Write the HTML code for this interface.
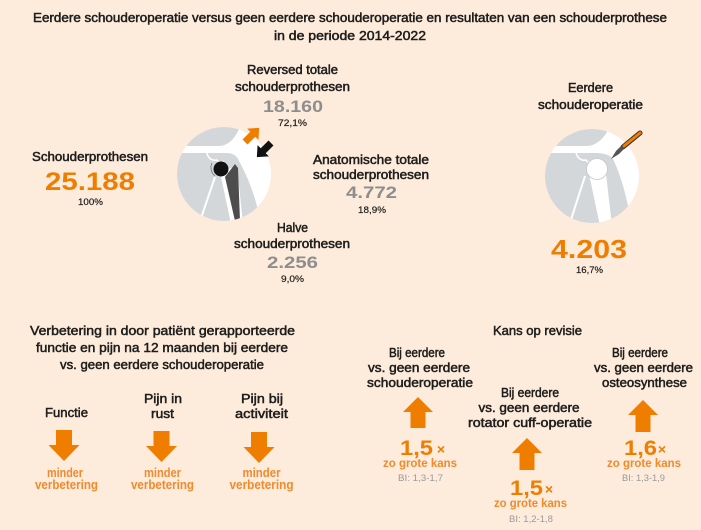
<!DOCTYPE html>
<html><head><meta charset="utf-8">
<style>
html,body{margin:0;padding:0;background:#FDEBDC;}
svg{display:block;}
.t{font-family:"Liberation Sans",sans-serif;fill:#1d1d1b;stroke:#1d1d1b;stroke-width:0.5;text-anchor:middle;}
.n{font-family:"Liberation Sans",sans-serif;font-weight:bold;text-anchor:middle;}
.o{fill:#EF7D00;}
.g{fill:#8E8E8E;}
.p{font-family:"Liberation Sans",sans-serif;fill:#1d1d1b;stroke:#1d1d1b;stroke-width:0.2;text-anchor:middle;font-size:9.5px;}
.lo{font-family:"Liberation Sans",sans-serif;font-weight:bold;fill:#F18A2C;text-anchor:middle;}
.bi{font-family:"Liberation Sans",sans-serif;fill:#9A9A9A;text-anchor:middle;font-size:9.5px;}
</style></head>
<body>
<svg width="701" height="530" viewBox="0 0 701 530" xmlns="http://www.w3.org/2000/svg">
<defs>
<clipPath id="cc"><circle cx="0" cy="0" r="47"/></clipPath>
</defs>
<rect width="701" height="530" fill="#FDEBDC"/>

<!-- Title -->
<text class="t" x="350" y="22" font-size="12.5" textLength="634" lengthAdjust="spacingAndGlyphs">Eerdere schouderoperatie versus geen eerdere schouderoperatie en resultaten van een schouderprothese</text>
<text class="t" x="350" y="40" font-size="12.5" textLength="152" lengthAdjust="spacingAndGlyphs">in de periode 2014-2022</text>

<!-- Left block -->
<text class="t" x="90" y="161" font-size="12.5" textLength="116" lengthAdjust="spacingAndGlyphs">Schouderprothesen</text>
<text class="n o" x="90" y="190" font-size="25" textLength="90" lengthAdjust="spacingAndGlyphs">25.188</text>
<text class="p" x="90.5" y="205" textLength="25" lengthAdjust="spacingAndGlyphs">100%</text>

<!-- Middle block -->
<text class="t" x="292.5" y="74" font-size="12.5" textLength="91" lengthAdjust="spacingAndGlyphs">Reversed totale</text>
<text class="t" x="292.5" y="91" font-size="12.5" textLength="115" lengthAdjust="spacingAndGlyphs">schouderprothesen</text>
<text class="n g" x="293" y="112" font-size="17" textLength="60" lengthAdjust="spacingAndGlyphs">18.160</text>
<text class="p" x="292.5" y="126" textLength="29" lengthAdjust="spacingAndGlyphs">72,1%</text>

<text class="t" x="371" y="164" font-size="12.5" textLength="116" lengthAdjust="spacingAndGlyphs">Anatomische totale</text>
<text class="t" x="371" y="179" font-size="12.5" textLength="116" lengthAdjust="spacingAndGlyphs">schouderprothesen</text>
<text class="n g" x="371.5" y="198" font-size="17" textLength="51" lengthAdjust="spacingAndGlyphs">4.772</text>
<text class="p" x="372" y="213" textLength="28" lengthAdjust="spacingAndGlyphs">18,9%</text>

<text class="t" x="292.5" y="232" font-size="12.5" textLength="31" lengthAdjust="spacingAndGlyphs">Halve</text>
<text class="t" x="292" y="248" font-size="12.5" textLength="116" lengthAdjust="spacingAndGlyphs">schouderprothesen</text>
<text class="n g" x="292.5" y="268" font-size="17" textLength="51" lengthAdjust="spacingAndGlyphs">2.256</text>
<text class="p" x="292.5" y="282" textLength="23" lengthAdjust="spacingAndGlyphs">9,0%</text>

<!-- Right block -->
<text class="t" x="590.5" y="92" font-size="12.5" textLength="45" lengthAdjust="spacingAndGlyphs">Eerdere</text>
<text class="t" x="590.5" y="109" font-size="12.5" textLength="105" lengthAdjust="spacingAndGlyphs">schouderoperatie</text>
<text class="n o" x="589" y="258" font-size="26" textLength="76" lengthAdjust="spacingAndGlyphs">4.203</text>
<text class="p" x="589.5" y="273" textLength="27" lengthAdjust="spacingAndGlyphs">16,7%</text>

<!-- Left shoulder icon (prosthesis) -->
<g transform="translate(224,174)">
  <circle r="47" fill="#fff"/>
  <g clip-path="url(#cc)">
    <path d="M-50,-28 L-4,-28 C6,-29 13,-38 17,-50 L-50,-50 Z" fill="#D3D7D9"/>
    <path d="M-50,-21 L2,-21 C8,-21 12,-19 14,-15 C22,0 31,18 37,50 L-50,50 Z" fill="#D3D7D9"/>
    <path d="M-17,-21 C-16,-15 -11,-13 -7,-14 C-5,-11 -2,-11 0,-13" fill="none" stroke="#fff" stroke-width="1.5"/>
    <path d="M-9,3 L-25,50" stroke="#fff" stroke-width="2" fill="none"/>
    <path d="M-4,-2 L13,-8 L19,50 L7,50 Z" fill="#fff"/>
    <path d="M1,3 L11,-10 L14,-6 L16,47 L11,47 Z" fill="#4D4D4D"/>
    <circle cx="-3" cy="-5" r="7.5" fill="#111"/>
    <path d="M-12,-11 C-14,-7 -13,-1 -9,2" fill="none" stroke="#777" stroke-width="0.8"/>
  </g>
</g>
<!-- arrows on left icon -->
<g transform="translate(245,142) rotate(-45)">
  <path d="M0,-3.5 L11,-3.5 L11,-8 L20,0 L11,8 L11,3.5 L0,3.5 Z" fill="#EF7D00"/>
</g>
<g transform="translate(271,143) rotate(135)">
  <path d="M0,-3.5 L11,-3.5 L11,-8 L20,0 L11,8 L11,3.5 L0,3.5 Z" fill="#111"/>
</g>

<!-- Right shoulder icon -->
<g transform="translate(592,176)">
  <circle r="47" fill="#fff"/>
  <g clip-path="url(#cc)">
    <path d="M-50,-30 L-4,-30 C6,-31 14,-40 18,-50 L-50,-50 Z" fill="#D3D7D9"/>
    <path d="M-50,-23 L4,-23 C12,-23 18,-21 21,-17 C28,-2 34,16 40,50 L-50,50 Z" fill="#D3D7D9"/>
    <path d="M-16,-23 C-14,-17 -10,-15 -6,-16 C-4,-13 -1,-13 1,-15" fill="none" stroke="#fff" stroke-width="1.5"/>
    <path d="M-7,0 L-23,50" stroke="#fff" stroke-width="2" fill="none"/>
    <path d="M-3,-2 L14,-2 L20,50 L8,50 Z" fill="#fff"/>
    <circle cx="5" cy="-7" r="10.5" fill="#fff" stroke="#C4C8CA" stroke-width="0.8"/>
  </g>
</g>
<!-- scalpel -->
<line x1="623" y1="147" x2="640" y2="133" stroke="#333" stroke-width="5" stroke-linecap="round"/>
<line x1="624" y1="146" x2="640" y2="133" stroke="#EF7D00" stroke-width="3" stroke-linecap="round"/>
<path d="M611,159 L616,151 L621,146 L624,149 L619,154 Z" fill="#555"/>

<!-- Lower left section -->
<text class="t" x="162.5" y="335" font-size="13" textLength="265" lengthAdjust="spacingAndGlyphs">Verbetering in door patiënt gerapporteerde</text>
<text class="t" x="162" y="352" font-size="13" textLength="252" lengthAdjust="spacingAndGlyphs">functie en pijn na 12 maanden bij eerdere</text>
<text class="t" x="162" y="369" font-size="13" textLength="204" lengthAdjust="spacingAndGlyphs">vs. geen eerdere schouderoperatie</text>

<text class="t" x="66.5" y="417" font-size="13" textLength="43" lengthAdjust="spacingAndGlyphs">Functie</text>
<text class="t" x="163" y="403" font-size="13" textLength="38" lengthAdjust="spacingAndGlyphs">Pijn in</text>
<text class="t" x="162.5" y="418" font-size="13" textLength="23" lengthAdjust="spacingAndGlyphs">rust</text>
<text class="t" x="262" y="403" font-size="13" textLength="42" lengthAdjust="spacingAndGlyphs">Pijn bij</text>
<text class="t" x="261.5" y="418" font-size="13" textLength="53" lengthAdjust="spacingAndGlyphs">activiteit</text>

<g fill="#EF7D00">
  <path d="M56,430 L72,430 L72,445 L79.5,445 L64,461 L48.5,445 L56,445 Z"/>
  <path d="M153.5,431 L169.5,431 L169.5,446 L177,446 L161.5,462 L146,446 L153.5,446 Z"/>
  <path d="M251,432 L267,432 L267,447 L274.5,447 L259,463 L243.5,447 L251,447 Z"/>
</g>
<text class="lo" x="65" y="477" font-size="13" textLength="36" lengthAdjust="spacingAndGlyphs">minder</text>
<text class="lo" x="66.5" y="489" font-size="13" textLength="63" lengthAdjust="spacingAndGlyphs">verbetering</text>
<text class="lo" x="162.5" y="477" font-size="13" textLength="37" lengthAdjust="spacingAndGlyphs">minder</text>
<text class="lo" x="162.5" y="489" font-size="13" textLength="63" lengthAdjust="spacingAndGlyphs">verbetering</text>
<text class="lo" x="261.5" y="477" font-size="13" textLength="38" lengthAdjust="spacingAndGlyphs">minder</text>
<text class="lo" x="261.5" y="489" font-size="13" textLength="64" lengthAdjust="spacingAndGlyphs">verbetering</text>

<!-- Lower right section -->
<text class="t" x="537.5" y="335" font-size="13" textLength="89" lengthAdjust="spacingAndGlyphs">Kans op revisie</text>

<text class="t" x="417" y="357" font-size="12.5" textLength="56" lengthAdjust="spacingAndGlyphs">Bij eerdere</text>
<text class="t" x="419" y="372" font-size="12.5" textLength="102" lengthAdjust="spacingAndGlyphs">vs. geen eerdere</text>
<text class="t" x="420" y="387" font-size="12.5" textLength="106" lengthAdjust="spacingAndGlyphs">schouderoperatie</text>

<text class="t" x="530" y="397" font-size="12.5" textLength="58" lengthAdjust="spacingAndGlyphs">Bij eerdere</text>
<text class="t" x="529" y="412" font-size="12.5" textLength="101" lengthAdjust="spacingAndGlyphs">vs. geen eerdere</text>
<text class="t" x="530" y="427" font-size="12.5" textLength="124" lengthAdjust="spacingAndGlyphs">rotator cuff-operatie</text>

<text class="t" x="640" y="357" font-size="12.5" textLength="56" lengthAdjust="spacingAndGlyphs">Bij eerdere</text>
<text class="t" x="643.5" y="372" font-size="12.5" textLength="99" lengthAdjust="spacingAndGlyphs">vs. geen eerdere</text>
<text class="t" x="644.5" y="387" font-size="12.5" textLength="85" lengthAdjust="spacingAndGlyphs">osteosynthese</text>

<g fill="#EF7D00">
  <path d="M418,397 L433,412 L425.5,412 L425.5,428 L410.5,428 L410.5,412 L403,412 Z"/>
  <path d="M527,438 L542,453 L534.5,453 L534.5,470 L519.5,470 L519.5,453 L512,453 Z"/>
  <path d="M643,400 L658,415 L650.5,415 L650.5,432 L635.5,432 L635.5,415 L628,415 Z"/>
</g>

<text class="n o" x="400" y="455" font-size="21" style="text-anchor:start" textLength="33" lengthAdjust="spacingAndGlyphs">1,5</text>
<text class="n o" x="441" y="454" font-size="14">×</text>
<text class="lo" x="420" y="467" font-size="12" textLength="74" lengthAdjust="spacingAndGlyphs">zo grote kans</text>
<text class="bi" x="420.5" y="481" textLength="45" lengthAdjust="spacingAndGlyphs">BI: 1,3-1,7</text>

<text class="n o" x="510" y="495" font-size="21" style="text-anchor:start" textLength="33" lengthAdjust="spacingAndGlyphs">1,5</text>
<text class="n o" x="549" y="494" font-size="14">×</text>
<text class="lo" x="530.5" y="507" font-size="12" textLength="73" lengthAdjust="spacingAndGlyphs">zo grote kans</text>
<text class="bi" x="531" y="522" textLength="44" lengthAdjust="spacingAndGlyphs">BI: 1,2-1,8</text>

<text class="n o" x="624" y="455" font-size="21" style="text-anchor:start" textLength="33" lengthAdjust="spacingAndGlyphs">1,6</text>
<text class="n o" x="662" y="454" font-size="14">×</text>
<text class="lo" x="644" y="467" font-size="12" textLength="74" lengthAdjust="spacingAndGlyphs">zo grote kans</text>
<text class="bi" x="643.5" y="481" textLength="43" lengthAdjust="spacingAndGlyphs">BI: 1,3-1,9</text>
</svg>
</body></html>
